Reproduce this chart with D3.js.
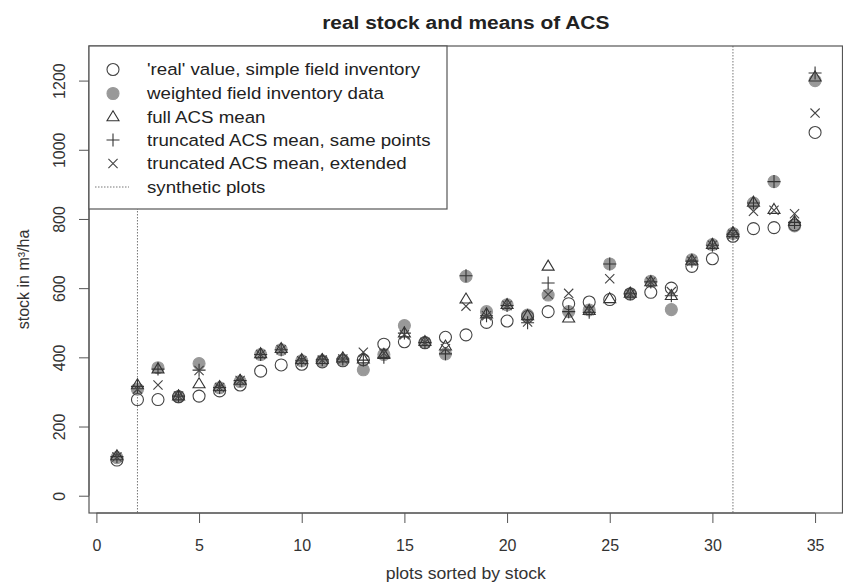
<!DOCTYPE html>
<html>
<head>
<meta charset="utf-8">
<script src="https://cdn.jsdelivr.net/npm/d3@7"></script>
<style>
  html, body { margin: 0; padding: 0; background: #fff; }
  svg { display: block; font-family: "Liberation Sans", Arial, Helvetica, sans-serif; }
</style>
</head>
<body>
<svg id="chart" width="843" height="583"></svg>
<script>
// plots 1..35, sorted by stock
const plots = d3.range(1, 36);

// 'real' value, simple field inventory
const realValue = [103, 278, 278, 286, 288, 303, 320, 360, 378, 380,
  387, 390, 393, 438, 445, 442, 458, 465, 501, 505,
  518, 532, 555, 560, 567, 583, 588, 600, 663, 685,
  750, 772, 775, 783, 1050];

// weighted field inventory data
const weightedField = [110, 308, 370, 286, 382, 312, 330, 408, 422, 390,
  390, 392, 364, 408, 492, 443, 410, 634, 532, 552,
  522, 580, 532, 537, 670, 584, 620, 538, 682, 726,
  758, 846, 908, 780, 1200];

// full ACS mean
const fullACS = [115, 320, 366, 288, 323, 315, 333, 410, 425, 393,
  393, 398, 395, 408, 470, 445, 432, 568, 525, 552,
  520, 663, 513, 535, 569, 585, 618, 578, 680, 726,
  760, 848, 827, 792, 1210];

// truncated ACS mean, same points
const truncSame = [113, 316, 366, 288, 363, 313, 333, 408, 422, 390,
  393, 395, 392, 400, 470, 443, 410, 636, 520, 550,
  500, 615, 532, 530, 670, 584, 618, 578, 678, 724,
  756, 846, 908, 790, 1222];

// truncated ACS mean, extended
const truncExt = [112, 308, 320, 288, 362, 313, 333, 408, 422, 390,
  392, 395, 415, 412, 465, 443, 425, 548, 520, 550,
  502, 582, 585, 535, 627, 584, 618, 590, 678, 724,
  756, 822, 825, 815, 1106];

// positions of the synthetic-plot boundaries
const syntheticBounds = [2, 31];

const xTicks = [0, 5, 10, 15, 20, 25, 30, 35];
const yTicks = [0, 200, 400, 600, 800, 1000, 1200];

const legendLabels = [
  "'real' value, simple field inventory",
  "weighted field inventory data",
  "full ACS mean",
  "truncated ACS mean, same points",
  "truncated ACS mean, extended",
  "synthetic plots"
];

const svg = d3.select("#chart");
const mLeft = 89, mRight = 842.5, mTop = 46, mBottom = 513;
const stretch = 1.1; // horizontal widening of the text glyphs

const x = d3.scaleLinear().domain([-0.36, 36.36]).range([mLeft, mRight + 0.5]);
const y = d3.scaleLinear().domain([-50, 1300]).range([mBottom, mTop]);

const ink = "#333";
const lineCol = "#555";

function wideText(sel, tx, ty) {
  return sel.append("text")
    .attr("transform", `translate(${tx},${ty}) scale(${stretch},1)`);
}

// title
wideText(svg, (mLeft + mRight) / 2, 29)
  .attr("text-anchor", "middle")
  .attr("font-size", 19).attr("font-weight", "bold")
  .attr("fill", "#222")
  .text("real stock and means of ACS");

// x axis
const xAxis = svg.append("g").attr("transform", `translate(0,${mBottom})`)
  .call(d3.axisBottom(x).tickValues(xTicks).tickSize(10).tickPadding(17).tickSizeOuter(0));
xAxis.select(".domain").attr("d", `M${x(0)},0H${x(35)}`).attr("stroke", lineCol);
xAxis.selectAll(".tick line").attr("stroke", lineCol);
xAxis.selectAll(".tick text").attr("font-size", 16).attr("fill", ink)
  .attr("font-family", "Liberation Sans, Arial, sans-serif");

// y axis (labels rotated, parallel to the axis)
const yAxis = svg.append("g").attr("transform", `translate(${mLeft},0)`)
  .call(d3.axisLeft(y).tickValues(yTicks).tickFormat(d3.format("d")).tickSize(10).tickSizeOuter(0));
yAxis.select(".domain").attr("d", `M0,${y(0)}V${y(1200)}`).attr("stroke", lineCol);
yAxis.selectAll(".tick line").attr("stroke", lineCol);
yAxis.selectAll(".tick text")
  .attr("font-size", 16).attr("fill", ink)
  .attr("font-family", "Liberation Sans, Arial, sans-serif")
  .attr("text-anchor", "middle")
  .attr("x", 0).attr("dy", null)
  .attr("transform", "translate(-30,0) rotate(-90)")
  .attr("dominant-baseline", "central");

// axis titles
wideText(svg, (mLeft + mRight) / 2, 579)
  .attr("text-anchor", "middle").attr("font-size", 16).attr("fill", ink)
  .text("plots sorted by stock");

svg.append("text")
  .attr("transform", `translate(23,${(mTop + mBottom) / 2}) rotate(-90)`)
  .attr("text-anchor", "middle").attr("dominant-baseline", "central")
  .attr("font-size", 16).attr("fill", ink)
  .text("stock in m³/ha");

// synthetic plot boundaries
svg.append("g").selectAll("line").data(syntheticBounds).join("line")
  .attr("x1", d => x(d)).attr("x2", d => x(d))
  .attr("y1", mTop).attr("y2", mBottom)
  .attr("stroke", "#777").attr("stroke-width", 1)
  .attr("stroke-dasharray", "1.5,1.5");

// marker shapes
const R = 6;
function shapePath(kind, cx, cy) {
  const p = d3.path();
  if (kind === "circle") {
    p.moveTo(cx + R, cy); p.arc(cx, cy, R, 0, 2 * Math.PI);
  } else if (kind === "triangle") {
    const h = 10, w = 12;
    p.moveTo(cx, cy - h * 0.62); p.lineTo(cx + w / 2, cy + h * 0.38);
    p.lineTo(cx - w / 2, cy + h * 0.38); p.closePath();
  } else if (kind === "plus") {
    const a = 6.5;
    p.moveTo(cx - a, cy); p.lineTo(cx + a, cy);
    p.moveTo(cx, cy - a); p.lineTo(cx, cy + a);
  } else if (kind === "cross") {
    const a = 4.6;
    p.moveTo(cx - a, cy - a); p.lineTo(cx + a, cy + a);
    p.moveTo(cx - a, cy + a); p.lineTo(cx + a, cy - a);
  }
  return p.toString();
}

const series = [
  { values: weightedField, kind: "circle", fill: "#999", stroke: "#999" },
  { values: realValue, kind: "circle", fill: "none", stroke: "#444" },
  { values: fullACS, kind: "triangle", fill: "none", stroke: "#333" },
  { values: truncSame, kind: "plus", fill: "none", stroke: "#333" },
  { values: truncExt, kind: "cross", fill: "none", stroke: "#444" }
];

const marks = svg.append("g");
series.forEach(s => {
  marks.append("g").selectAll("path").data(s.values).join("path")
    .attr("d", (v, i) => shapePath(s.kind, x(plots[i]), y(v)))
    .attr("fill", s.fill).attr("stroke", s.stroke).attr("stroke-width", 1.1);
});

// plot frame
svg.append("rect")
  .attr("x", mLeft).attr("y", mTop)
  .attr("width", mRight - mLeft).attr("height", mBottom - mTop)
  .attr("fill", "none").attr("stroke", lineCol).attr("stroke-width", 1.2);

// legend
const lg = svg.append("g");
const lgRows = [69.5, 93.5, 117, 140, 163.5, 187];
lg.append("rect")
  .attr("x", mLeft).attr("y", mTop).attr("width", 358).attr("height", 163)
  .attr("fill", "#fff").attr("stroke", lineCol).attr("stroke-width", 1.2);
const lgSym = ["circle", "circle", "triangle", "plus", "cross"];
const lgFill = ["none", "#999", "none", "none", "none"];
const lgStroke = ["#444", "#999", "#333", "#333", "#444"];
lgSym.forEach((k, i) => {
  lg.append("path").attr("d", shapePath(k, 113, lgRows[i]))
    .attr("fill", lgFill[i]).attr("stroke", lgStroke[i]).attr("stroke-width", 1.1);
});
lg.append("line")
  .attr("x1", 95).attr("x2", 129).attr("y1", lgRows[5]).attr("y2", lgRows[5])
  .attr("stroke", "#777").attr("stroke-dasharray", "1.5,1.5");
legendLabels.forEach((t, i) => {
  wideText(lg, 147, lgRows[i])
    .attr("dominant-baseline", "central")
    .attr("font-size", 17).attr("fill", "#222")
    .text(t);
});
</script>
</body>
</html>
